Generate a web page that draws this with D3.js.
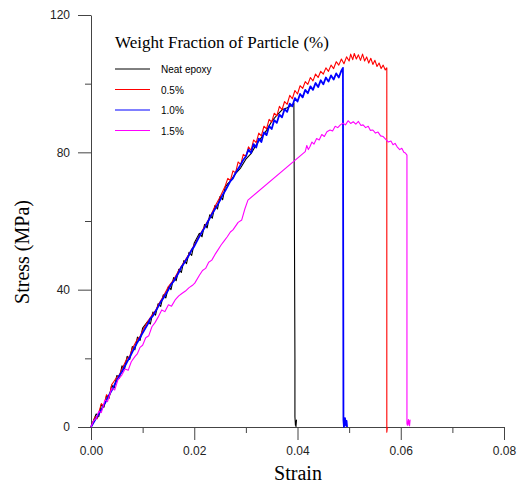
<!DOCTYPE html>
<head>
  <meta charset="utf-8">
  <script src='https://d3js.org/d3.v7.min.js'></script>
  <style>
    body { margin: 0; background: #fff; }
    .tick text { font: 12px Arial, "Liberation Sans", sans-serif; fill: #222; }
    .axis path, .axis line { stroke: #444; }
    .curve { fill: none; stroke-linejoin: round; }
  </style>
</head>
<body>
<script>
// strain / stress readings for each specimen
var neatEpoxy = [
  [0,0],[0.001,3.8],[0.0015,3.0],[0.002,6.6],[0.0025,5.8],[0.003,9.1],[0.0035,8.4],[0.004,12.2],
  [0.0045,11.4],[0.005,15.0],[0.0055,14.2],[0.006,17.8],[0.0065,17.0],[0.007,20.6],[0.0075,19.7],
  [0.008,23.4],[0.0085,22.5],[0.009,26.2],[0.0095,25.2],[0.010,28.8],[0.011,30.8],[0.0115,30.0],
  [0.012,33.5],[0.0125,32.6],[0.013,35.9],[0.0135,35.1],[0.014,38.5],[0.0145,37.6],[0.015,40.9],
  [0.0155,40.0],[0.016,43.5],[0.0165,42.6],[0.017,45.9],[0.0175,45.0],[0.018,48.5],[0.0185,47.6],
  [0.019,50.9],[0.0195,50.0],[0.020,53.6],[0.021,56.4],[0.0215,55.4],[0.022,59.0],[0.0225,58.0],
  [0.023,61.8],[0.0235,60.8],[0.024,64.5],[0.0245,63.5],[0.025,67.2],[0.0255,66.2],[0.026,69.9],
  [0.0265,70.9],[0.027,71.6],[0.028,73.8],[0.029,75.5],[0.030,78.0],[0.031,79.6],[0.032,82.2],
  [0.033,84.3],[0.034,86.4],[0.035,89.0],[0.036,90.8],[0.037,92.4],[0.038,93.0],[0.039,93.8],
  [0.0393,94.3],[0.0394,60],[0.0395,20],[0.0395,3],[0.0396,0.5],[0.0398,2.0],[0.0397,0]
];
var frac05 = [
  [0,0],[0.0008,3.0],[0.0012,2.4],[0.002,6.8],[0.0025,5.9],[0.003,9.4],[0.0035,8.5],[0.004,12.3],
  [0.005,14.5],[0.0055,15.2],[0.006,16.9],[0.007,20.0],[0.0075,20.6],[0.008,22.8],[0.009,25.6],
  [0.0095,26.4],[0.010,28.1],[0.011,30.8],[0.012,33.0],[0.0125,33.9],[0.013,35.5],[0.014,38.0],
  [0.015,40.9],[0.016,42.9],[0.017,45.6],[0.018,48.0],[0.019,50.4],[0.020,53.0],[0.021,55.7],
  [0.022,58.4],[0.023,61.0],[0.024,64.2],[0.025,67.0],[0.026,70.2],[0.0265,72.4],[0.027,71.8],
  [0.0275,74.6],[0.028,74.0],[0.0285,77.2],[0.029,76.4],[0.0295,79.4],[0.030,78.8],[0.0305,81.6],
  [0.031,80.6],[0.0315,83.6],[0.032,82.8],[0.0325,85.6],[0.033,84.8],[0.0335,87.6],[0.034,86.8],
  [0.0345,89.6],[0.035,88.8],[0.0355,91.4],[0.036,90.6],[0.0365,93.4],[0.037,92.4],[0.0375,94.8],
  [0.038,94.0],[0.0385,96.6],[0.039,95.6],[0.0395,98.0],[0.040,97.0],[0.0405,99.4],[0.041,98.6],
  [0.0415,100.6],[0.042,99.8],[0.0425,101.8],[0.043,100.8],[0.0435,102.8],[0.044,101.8],
  [0.0445,103.6],[0.045,102.8],[0.0455,104.6],[0.046,103.6],[0.0465,105.4],[0.047,104.4],
  [0.0475,106.4],[0.048,105.4],[0.0485,107.2],[0.049,105.8],[0.0495,107.8],[0.050,106.6],
  [0.0503,108.6],[0.0507,107.0],[0.051,108.8],[0.0514,107.2],[0.0518,108.4],[0.0522,106.8],
  [0.0526,108.6],[0.053,106.6],[0.0534,107.8],[0.0538,106.0],[0.0542,107.4],[0.0546,105.6],
  [0.055,106.8],[0.0554,105.0],[0.0558,106.0],[0.0562,104.4],[0.0566,105.4],[0.057,104.0],
  [0.0573,104.6],[0.0573,-1.5],[0.0574,0]
];
var frac10 = [
  [0,0],[0.001,2.6],[0.0015,3.8],[0.002,5.0],[0.003,7.8],[0.0035,9.3],[0.004,10.6],[0.005,13.6],
  [0.0055,15.0],[0.006,16.1],[0.007,19.0],[0.0075,20.3],[0.008,21.8],[0.009,24.7],[0.0095,26.0],
  [0.010,27.4],[0.011,30.0],[0.0115,31.6],[0.012,32.4],[0.013,35.0],[0.0135,36.4],[0.014,37.5],
  [0.015,40.0],[0.0155,41.5],[0.016,42.4],[0.017,45.0],[0.0175,46.6],[0.018,47.6],[0.019,50.1],
  [0.0195,51.6],[0.020,52.6],[0.021,55.5],[0.0215,56.8],[0.022,58.0],[0.023,60.8],[0.0235,62.2],
  [0.024,63.4],[0.025,66.0],[0.0255,67.6],[0.026,68.8],[0.027,71.6],[0.0275,72.4],[0.028,74.0],
  [0.029,76.4],[0.0295,77.8],[0.030,78.8],[0.0305,80.8],[0.031,79.8],[0.0315,82.4],[0.032,81.4],
  [0.0325,84.0],[0.033,83.0],[0.0335,85.8],[0.034,85.0],[0.0345,87.6],[0.035,86.8],[0.0355,89.4],
  [0.036,88.6],[0.0365,91.0],[0.037,90.2],[0.0375,92.6],[0.038,91.8],[0.0385,94.2],[0.039,93.4],
  [0.0395,95.8],[0.040,94.8],[0.0405,97.0],[0.041,96.0],[0.0415,98.2],[0.042,97.2],[0.0425,99.2],
  [0.043,98.2],[0.0435,100.2],[0.044,99.0],[0.0445,101.0],[0.045,99.8],[0.0455,101.8],[0.046,100.6],
  [0.0465,102.4],[0.047,101.2],[0.0475,103.0],[0.048,101.8],[0.0485,103.8],[0.0488,104.6],
  [0.0489,2.0],[0.0490,0.0],[0.0492,2.6],[0.0494,0.4],[0.0495,1.8],[0.0496,0]
];
var frac15 = [
  [0,0],[0.0005,1.8],[0.001,2.5],[0.0015,4.6],[0.002,4.2],[0.0027,7.9],[0.0032,7.4],[0.004,11.2],
  [0.0046,10.8],[0.0052,13.7],[0.006,15.2],[0.0066,16.9],[0.0072,16.5],[0.0078,19.0],[0.0085,20.5],
  [0.009,21.4],[0.0095,23.2],[0.010,23.8],[0.0106,26.0],[0.0112,26.6],[0.0118,29.2],[0.0124,30.4],
  [0.013,32.0],[0.0137,34.1],[0.0143,33.6],[0.015,35.6],[0.0156,35.2],[0.0163,37.0],[0.017,38.2],
  [0.0176,38.9],[0.0183,39.6],[0.019,40.6],[0.0196,41.2],[0.0201,41.9],[0.021,44.2],[0.0216,45.6],
  [0.0222,46.2],[0.0228,48.0],[0.0234,48.6],[0.024,50.2],[0.0246,51.6],[0.0252,53.0],[0.0258,54.2],
  [0.0264,55.4],[0.027,56.8],[0.0275,57.4],[0.0279,58.3],[0.0285,59.6],[0.0292,60.3],[0.0298,63.5],
  [0.0304,66.1],[0.0415,80.2],[0.0418,82.0],[0.0421,80.8],[0.0424,81.6],[0.0428,83.0],[0.0432,82.4],
  [0.0437,84.0],[0.0442,83.6],[0.0447,85.2],[0.0452,84.6],[0.0457,86.0],[0.0463,86.5],[0.0468,86.2],
  [0.0473,87.6],[0.0478,87.2],[0.0483,88.0],[0.0488,88.5],[0.0493,88.0],[0.0498,89.2],[0.0503,88.4],
  [0.0508,88.9],[0.0513,88.2],[0.0518,89.0],[0.0523,87.8],[0.0527,88.0],[0.0532,87.2],[0.0537,87.6],
  [0.0541,86.4],[0.0546,86.5],[0.0551,85.6],[0.0556,85.9],[0.0561,84.8],[0.0566,84.6],[0.0571,83.8],
  [0.0576,83.0],[0.0581,83.3],[0.0585,82.2],[0.0589,82.6],[0.0593,81.6],[0.0598,80.8],[0.0602,81.2],
  [0.0606,80.0],[0.0609,79.8],[0.0612,79.2],[0.0612,1.0],[0.0613,0.5],[0.0615,2.2],[0.0616,0.6],
  [0.0618,2.0],[0.0617,0.2]
];

var seriesNames = ["Neat epoxy", "0.5%", "1.0%", "1.5%"];
var seriesColors = ["#000000", "#ff0000", "#0000ff", "#ff00ff"];
var seriesData = [neatEpoxy, frac05, frac10, frac15];

var xMajor = [0, 0.02, 0.04, 0.06, 0.08];
var xMinor = [0.01, 0.03, 0.05, 0.07];
var yMajor = [0, 40, 80, 120];
var yMinor = [20, 60, 100];

var width = 518, height = 485;
var margin = {left: 91, top: 15, right: 14, bottom: 58};

var svg = d3.select("body").append("svg")
  .attr("width", width)
  .attr("height", height);

var x = d3.scaleLinear().domain([0, 0.08]).range([margin.left, width - margin.right]);
var y = d3.scaleLinear().domain([0, 120]).range([height - margin.bottom, margin.top]);

// minor ticks first, then the labelled axes
svg.append("g").attr("class", "axis")
  .attr("transform", "translate(0," + y(0) + ")")
  .call(d3.axisBottom(x).tickValues(xMinor).tickSize(6).tickFormat(""))
  .select(".domain").remove();
svg.append("g").attr("class", "axis")
  .attr("transform", "translate(" + x(0) + ",0)")
  .call(d3.axisLeft(y).tickValues(yMinor).tickSize(6).tickFormat(""))
  .select(".domain").remove();

svg.append("g").attr("class", "axis")
  .attr("transform", "translate(0," + y(0) + ")")
  .call(d3.axisBottom(x).tickValues(xMajor).tickSize(13).tickSizeOuter(0).tickPadding(6)
    .tickFormat(d3.format(".2f")));
svg.append("g").attr("class", "axis")
  .attr("transform", "translate(" + x(0) + ",0)")
  .call(d3.axisLeft(y).tickValues(yMajor).tickSize(13).tickSizeOuter(0).tickPadding(8));

var line = d3.line()
  .x(function(d) { return x(d[0]); })
  .y(function(d) { return y(d[1]); });

seriesData.forEach(function(s, i) {
  svg.append("path")
    .datum(s)
    .attr("class", "curve")
    .attr("d", line)
    .attr("stroke", seriesColors[i])
    .attr("stroke-width", i == 2 ? 1.8 : 1.1);
});

// axis titles
svg.append("text")
  .attr("x", 298).attr("y", 480)
  .attr("text-anchor", "middle")
  .style("font", "20px 'Liberation Serif', 'DejaVu Serif', serif")
  .text("Strain");
svg.append("text")
  .attr("transform", "translate(29,252) rotate(-90)")
  .attr("text-anchor", "middle")
  .style("font", "20px 'Liberation Serif', 'DejaVu Serif', serif")
  .text("Stress (MPa)");

// legend
svg.append("text")
  .attr("x", 115).attr("y", 48)
  .style("font", "17px 'Liberation Serif', 'DejaVu Serif', serif")
  .text("Weight Fraction of Particle (%)");

var legend = svg.selectAll(".legend")
  .data(seriesNames)
  .enter().append("g")
  .attr("class", "legend")
  .attr("transform", function(d, i) { return "translate(115," + (69 + i * 20.5) + ")"; });

legend.append("line")
  .attr("x1", 0).attr("x2", 35)
  .attr("stroke", function(d, i) { return seriesColors[i]; })
  .attr("stroke-width", 1);

legend.append("text")
  .attr("x", 46).attr("y", 4)
  .style("font", "10px Arial, 'Liberation Sans', sans-serif")
  .text(function(d) { return d; });
</script>
</body>
